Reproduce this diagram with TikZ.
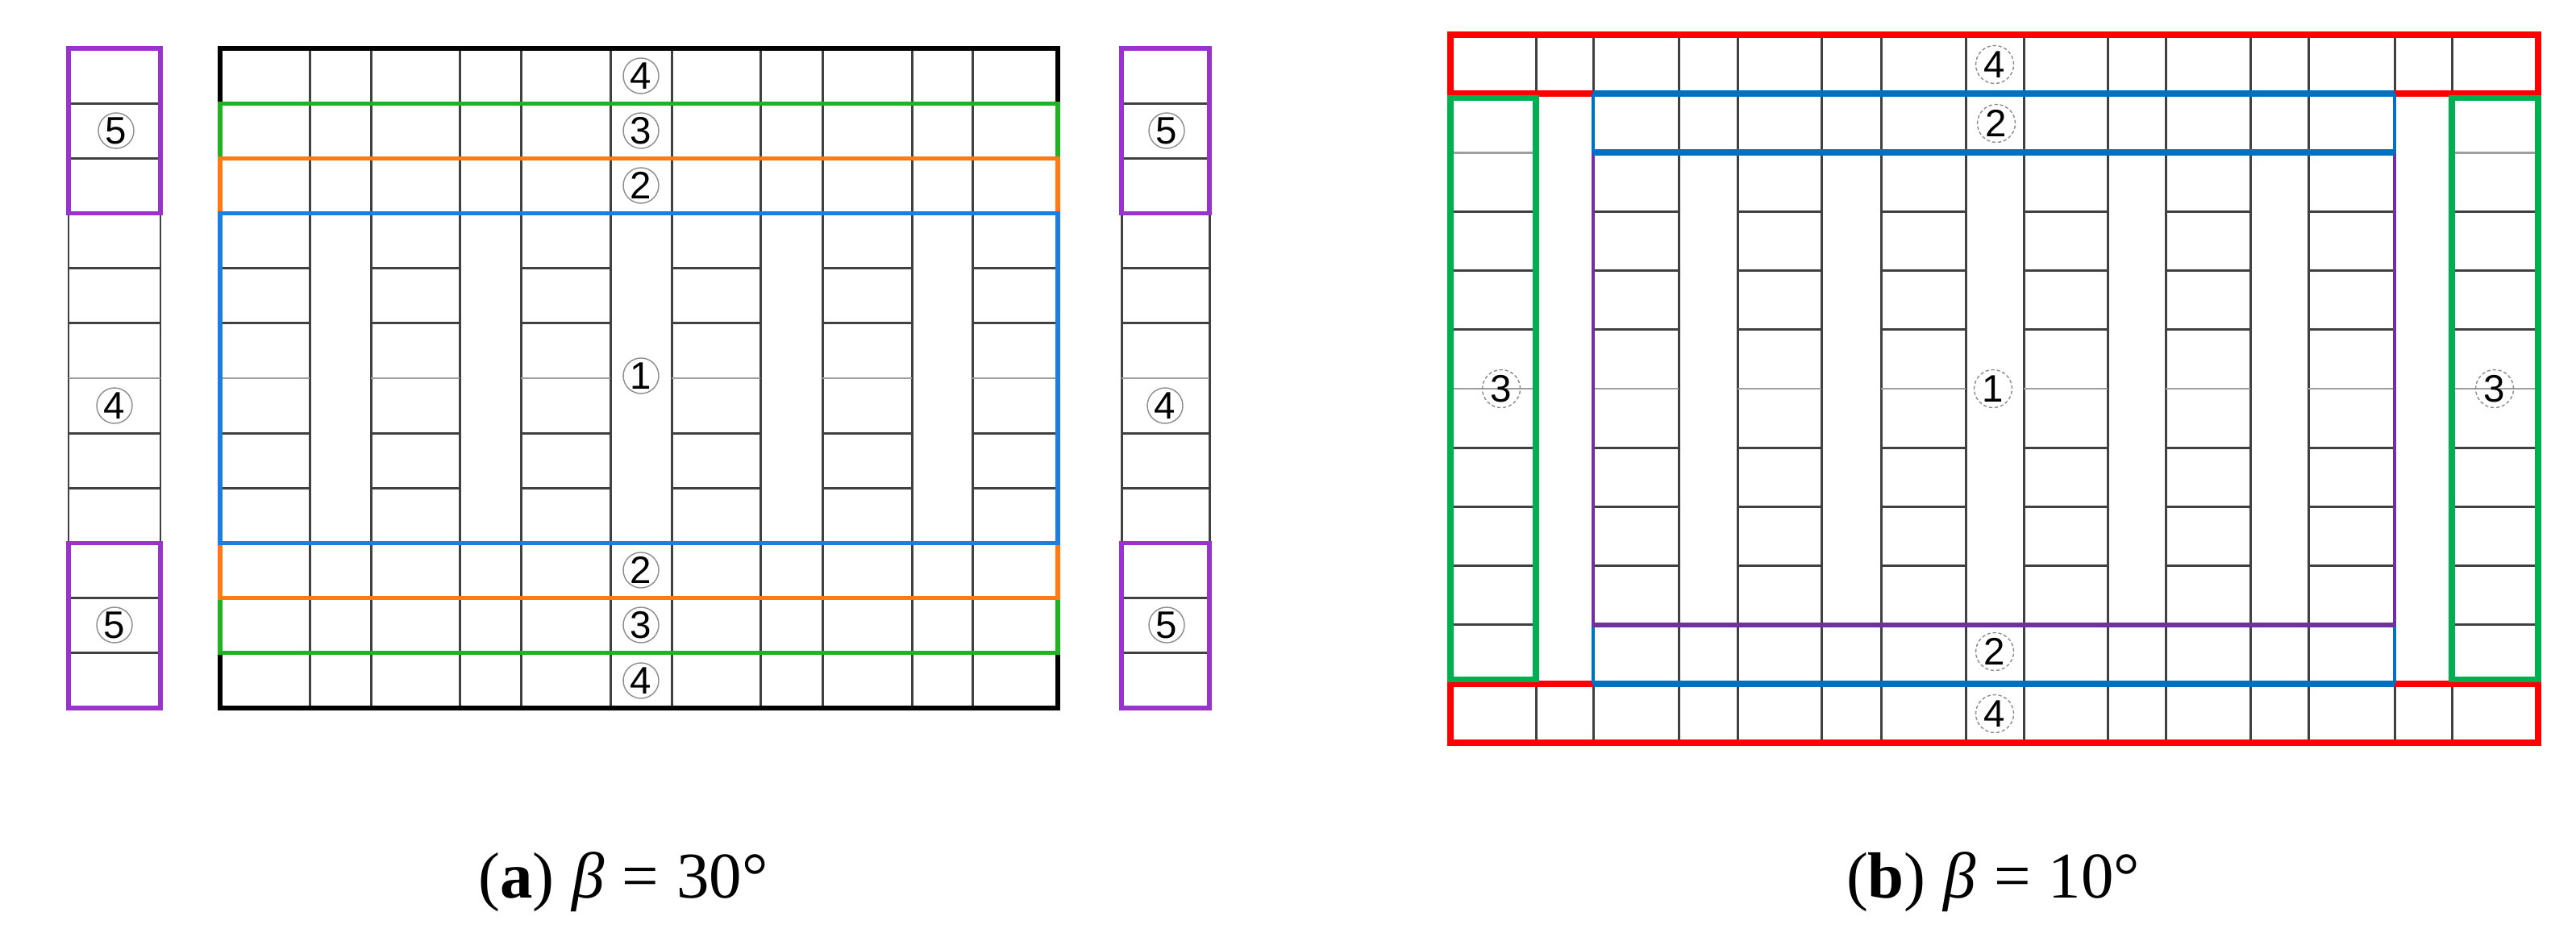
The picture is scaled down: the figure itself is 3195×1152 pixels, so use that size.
\documentclass[tikz,border=0pt]{standalone}
\usepackage{fontspec}
\setmainfont{Liberation Serif}
\newfontfamily\lblfont{Liberation Sans}
\usepackage{tikz}
\usetikzlibrary{positioning}

\definecolor{agreen}{RGB}{34,177,34}
\definecolor{aorange}{RGB}{255,121,20}
\definecolor{ablue}{RGB}{30,125,225}
\definecolor{apurple}{RGB}{153,51,204}
\definecolor{bred}{RGB}{255,0,0}
\definecolor{bgreen}{RGB}{0,176,80}
\definecolor{bblue}{RGB}{0,112,192}
\definecolor{bpurple}{RGB}{112,48,160}

\tikzset{
    gridline/.style={line width=0.85pt, draw=black!75},
    gridlight/.style={line width=0.8pt, draw=black!38},
    aframe/.style={line width=1.45pt},
    bthin/.style={line width=1.2pt},
    bthick/.style={line width=2.2pt},
    lbl/.style={circle, draw=black!45, line width=0.4pt, minimum size=0.44cm, inner sep=0pt,
        font=\fontsize{13.5pt}{15pt}\selectfont\lblfont},
    lbld/.style={lbl, minimum size=0.47cm, dash pattern=on 1.2pt off 0.8pt},
    capt/.style={anchor=base, font=\fontsize{23pt}{28pt}\selectfont}
}

\begin{document}
\begin{tikzpicture}[x=0.01cm, y=-0.01cm]
                    \useasboundingbox (0,0) rectangle (3195,1152);

                    % (a)
                    \draw[gridline]
                    \foreach \x in {273,384,460,570,646,757,833,943,1020,1131,1206,1312} {
                        (\x, 60) -- (\x, 878)
                    }
                    \foreach \i in {0,1,2,3,9,10,11,12} {
                        (273, 60 + 68.17*\i) -- (1312, 60 + 68.17*\i)
                    };
                    \foreach \xa/\xb in {273/384, 460/570, 646/757, 833/943, 1020/1131, 1206/1312} {
                        \draw[gridline] \foreach \i in {4,5,7,8} {(\xa, 60 + 68.17*\i) -- (\xb, 60 + 68.17*\i)};
                        \draw[gridlight] (\xa, 469) -- (\xb, 469);
                    }
                    \foreach \xa/\xb in {85/199, 1391/1500} {
                        \draw[gridline] (\xa, 60) -- (\xa, 878) (\xb, 60) -- (\xb, 878)
                        \foreach \i in {0,...,5,7,8,...,12} {(\xa, 60 + 68.17*\i) -- (\xb, 60 + 68.17*\i)};
                        \draw[gridlight] (\xa, 469) -- (\xb, 469);
                    }

                    \draw[aframe, black, line width=1.6pt]
                    (273, 128.2) -- (273, 60) -- (1312, 60) -- (1312, 128.2)
                    (273, 809.8) -- (273, 878) -- (1312, 878) -- (1312, 809.8);
                    \draw[aframe, agreen] (273, 128.2) rectangle (1312, 196.3) (273, 741.7) rectangle (1312, 809.8);
                    \draw[aframe, aorange] (273, 196.3) rectangle (1312, 264.5) (273, 673.5) rectangle (1312, 741.7);
                    \draw[aframe, ablue] (273, 264.5) rectangle (1312, 673.5);
                    \draw[aframe, apurple, line width=1.6pt]
                    (85, 60) rectangle (199, 264.5) (85, 673.5) rectangle (199, 878)
                    (1391, 60) rectangle (1500, 264.5) (1391, 673.5) rectangle (1500, 878);

                    \node[lbl] (a4top) at (795, 94) {4};
                    \node[lbl] (a3top) at (795, 162) {3};
                    \node[lbl] (a2top) at (795, 230) {2};
                    \node[lbl] (a1) at (795, 466) {1};
                    \node[lbl] (a2bot) at (795, 707) {2};
                    \node[lbl] (a3bot) at (795, 775) {3};
                    \node[lbl] (a4bot) at (795, 844) {4};
                    \node[lbl] (a5lt) at (144, 162) {5};
                    \node[lbl] (a4l) at (142, 503) {4};
                    \node[lbl] (a5lb) at (142, 775) {5};
                    \node[lbl] (a5rt) at (1447, 162) {5};
                    \node[lbl] (a4r) at (1445, 503) {4};
                    \node[lbl] (a5rb) at (1447, 775) {5};
                    \node[capt] (capa) at (773, 1113) {(\textbf{a})\hspace{0.22cm}\textit{β}\hspace{0.22cm}=\hspace{0.22cm}30°};

                    % (b)
                    \draw[gridline]
                    \foreach \x in {1799,1905,1976,2082,2155,2259,2333,2438,2510,2614,2686,2791,2863,2970,3041,3148} {
                        (\x, 43) -- (\x, 116.2) (\x, 847.8) -- (\x, 921)
                    }
                    \foreach \x in {1976,2082,2155,2259,2333,2438,2510,2614,2686,2791,2863,2970} {
                        (\x, 116.2) -- (\x, 847.8)
                    }
                    \foreach \i in {0,1,11,12} {
                        (1799, 43 + 73.17*\i) -- (3148, 43 + 73.17*\i)
                    };
                    \foreach \xa/\xb in {1976/2082, 2155/2259, 2333/2438, 2510/2614, 2686/2791, 2863/2970} {
                        \draw[gridline] \foreach \i in {3,4,5,7,8,9} {(\xa, 43 + 73.17*\i) -- (\xb, 43 + 73.17*\i)};
                        \draw[gridlight] (\xa, 482) -- (\xb, 482);
                    }
                    \foreach \xa/\xb in {1799/1905, 3041/3148} {
                        \draw[gridline] \foreach \i in {3,4,5,7,8,9,10} {(\xa, 43 + 73.17*\i) -- (\xb, 43 + 73.17*\i)};
                        \draw[gridlight] (\xa, 189.3) -- (\xb, 189.3) (\xa, 482) -- (\xb, 482);
                    }

                    \draw[bthick, bred] (1799, 43) rectangle (3148, 116.2) (1799, 847.8) rectangle (3148, 921);
                    \draw[bthick, bgreen] (1799, 121.5) rectangle (1905, 842.5) (3041, 121.5) rectangle (3148, 842.5);
                    \draw[bthin, bblue] (1976, 774.7) -- (1976, 847.8) (2970, 774.7) -- (2970, 847.8);
                    \draw[bthick, bblue] (1976, 847.8) -- (2970, 847.8);
                    \draw[bthin, bpurple] (1976, 189.3) -- (1976, 774.7) -- (2970, 774.7) -- (2970, 189.3);
                    \draw[bthin, bpurple, line width=1.7pt] (1976, 774.7) -- (2970, 774.7);
                    \draw[bthin, bblue] (1976, 116.2) -- (1976, 189.3) (2970, 116.2) -- (2970, 189.3);
                    \draw[bthick, bblue] (1976, 116.2) -- (2970, 116.2) (1976, 189.3) -- (2970, 189.3);

                    \node[lbld] (b4top) at (2474, 80) {4};
                    \node[lbld] (b2top) at (2476, 153) {2};
                    \node[lbld] (b1) at (2472, 482) {1};
                    \node[lbld] (b2bot) at (2474, 808) {2};
                    \node[lbld] (b4bot) at (2474, 885) {4};
                    \node[lbld] (b3l) at (1862, 482) {3};
                    \node[lbld] (b3r) at (3094, 482) {3};
                    \node[capt] (capb) at (2472, 1113) {(\textbf{b})\hspace{0.22cm}\textit{β}\hspace{0.22cm}=\hspace{0.22cm}10°};
                \end{tikzpicture}
\end{document}
